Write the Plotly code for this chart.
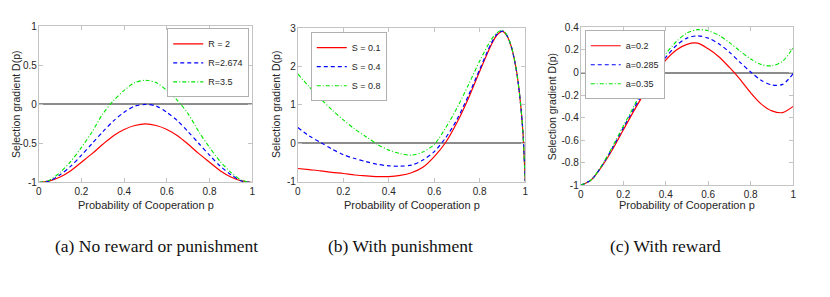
import plotly.graph_objects as go

# ---------------- data ----------------
p_a = [0, 0.05, 0.1, 0.15, 0.2, 0.25, 0.3, 0.35, 0.4, 0.45, 0.5,
       0.55, 0.6, 0.65, 0.7, 0.75, 0.8, 0.85, 0.9, 0.95, 1.0]
a_R2 = [-1, -0.98, -0.93, -0.85, -0.74, -0.63, -0.51, -0.40, -0.32, -0.27, -0.25,
        -0.27, -0.32, -0.40, -0.51, -0.63, -0.74, -0.85, -0.93, -0.98, -1]
a_R2674 = [-1, -0.98, -0.90, -0.79, -0.65, -0.50, -0.35, -0.21, -0.10, -0.02, 0.0,
           -0.02, -0.10, -0.21, -0.35, -0.50, -0.65, -0.79, -0.90, -0.98, -1]
a_R35 = [-1, -0.97, -0.87, -0.73, -0.55, -0.35, -0.12, 0.05, 0.18, 0.28, 0.31,
         0.28, 0.18, 0.05, -0.12, -0.35, -0.55, -0.73, -0.87, -0.97, -1]

p_b = [0, 0.05, 0.1, 0.15, 0.2, 0.25, 0.3, 0.35, 0.4, 0.45, 0.5, 0.55, 0.6,
       0.65, 0.7, 0.75, 0.8, 0.85, 0.875, 0.9, 0.92, 0.94, 0.96, 0.975, 0.99, 1.0]
b_S01 = [-0.66, -0.69, -0.72, -0.76, -0.79, -0.83, -0.85, -0.87, -0.87, -0.84, -0.77, -0.63, -0.35,
         0.02, 0.54, 1.17, 1.88, 2.56, 2.82, 2.92, 2.80, 2.50, 1.95, 1.30, 0.30, -1.0]
b_S04 = [0.41, 0.19, 0.02, -0.15, -0.30, -0.40, -0.48, -0.55, -0.59, -0.60, -0.57, -0.44, -0.22,
         0.14, 0.62, 1.24, 1.93, 2.60, 2.84, 2.93, 2.81, 2.50, 1.95, 1.30, 0.30, -1.0]
b_S08 = [1.81, 1.47, 1.16, 0.87, 0.61, 0.37, 0.17, -0.03, -0.18, -0.27, -0.31, -0.23, -0.03,
         0.40, 0.92, 1.52, 2.15, 2.70, 2.88, 2.95, 2.82, 2.51, 1.96, 1.30, 0.30, -1.0]

p_c = [0, 0.05, 0.1, 0.15, 0.2, 0.25, 0.3, 0.35, 0.4, 0.45, 0.5,
       0.55, 0.6, 0.65, 0.7, 0.75, 0.8, 0.85, 0.9, 0.95, 1.0]
c_a02 = [-1, -0.95, -0.83, -0.68, -0.51, -0.34, -0.18, -0.02, 0.11, 0.20, 0.25,
         0.26, 0.21, 0.14, 0.045, -0.06, -0.18, -0.28, -0.34, -0.355, -0.30]
c_a0285 = [-1, -0.95, -0.825, -0.665, -0.49, -0.32, -0.155, 0.01, 0.135, 0.24, 0.305,
           0.325, 0.305, 0.255, 0.18, 0.09, 0.005, -0.07, -0.11, -0.105, -0.01]
c_a035 = [-1, -0.95, -0.82, -0.655, -0.475, -0.30, -0.11, 0.04, 0.165, 0.275, 0.35,
          0.38, 0.37, 0.33, 0.265, 0.19, 0.12, 0.07, 0.06, 0.10, 0.22]

x_ticks = [0, 0.2, 0.4, 0.6, 0.8, 1]
x_ticklabels = ["0", "0.2", "0.4", "0.6", "0.8", "1"]
ya_ticks = [-1, -0.5, 0, 0.5, 1]
ya_labels = ["-1", "-0.5", "0", "0.5", "1"]
yb_ticks = [-1, 0, 1, 2, 3]
yb_labels = ["-1", "0", "1", "2", "3"]
yc_ticks = [-1, -0.8, -0.6, -0.4, -0.2, 0, 0.2, 0.4]
yc_labels = ["-1", "-0.8", "-0.6", "-0.4", "-0.2", "0", "0.2", "0.4"]

captions = ["(a) No reward or punishment", "(b) With punishment", "(c) With reward"]
x_title = "Probability of Cooperation p"
y_title = "Selection gradient D(p)"

# ---------------- figure ----------------
# the page body keeps its default 8px margin, so the figure is laid out in
# page coordinates shifted by that offset
OFF = 8
W, H = 830 - 2 * OFF, 297 - 2 * OFF


def fx(px):
    return (px - OFF) / W


def fy(py):
    return 1 - (py - OFF) / H


RED, BLUE, GREEN = "#ff0000", "#0000ff", "#00e600"
styles = [dict(color=RED, width=1.2),
          dict(color=BLUE, width=1.2, dash="4px,3px"),
          dict(color=GREEN, width=1.1, dash="4px,2px,1px,2px")]

fig = go.Figure()

panels = [
    (p_a, [a_R2, a_R2674, a_R35], ["R = 2", "R=2.674", "R=3.5"], "x", "y", "legend"),
    (p_b, [b_S01, b_S04, b_S08], ["S = 0.1", "S = 0.4", "S = 0.8"], "x2", "y2", "legend2"),
    (p_c, [c_a02, c_a0285, c_a035], ["a=0.2", "a=0.285", "a=0.35"], "x3", "y3", "legend3"),
]
for px, series, names, xa, ya, lg in panels:
    for s, nm, st in zip(series, names, styles):
        fig.add_trace(go.Scatter(x=px, y=s, mode="lines", name=nm,
                                 line=dict(shape="spline", smoothing=0.8, **st),
                                 xaxis=xa, yaxis=ya, legend=lg))

# page pixel boxes (left, right, top, bottom)
boxes = [(36, 251, 21, 184), (297, 526, 23, 183), (582, 796, 22, 187)]
yticks = [(ya_ticks, ya_labels, [-1, 1]), (yb_ticks, yb_labels, [-1, 3]), (yc_ticks, yc_labels, [-1, 0.4])]

axfont = dict(family="Liberation Sans, Arial, sans-serif", size=10, color="#262626")
common = dict(showline=True, mirror="ticks", linecolor="#c4c4c4", linewidth=1,
              ticks="inside", ticklen=4, tickcolor="#c4c4c4", showgrid=False, tickfont=axfont)

annotations = []
for i, ((l, r, t, b), (yt, yl, yr)) in enumerate(zip(boxes, yticks)):
    sfx = "" if i == 0 else str(i + 1)
    fig.update_layout(**{
        "xaxis" + sfx: dict(domain=[fx(l), fx(r)], range=[0, 1], tickvals=x_ticks, ticktext=x_ticklabels,
                            zeroline=False, anchor="y" + sfx, **common),
        "yaxis" + sfx: dict(domain=[fy(b), fy(t)], range=yr, tickvals=yt, ticktext=yl,
                            zeroline=True, zerolinecolor="#8c8c8c", zerolinewidth=2,
                            ticklabelstandoff=-1, anchor="x" + sfx, **common),
    })
    annotations.append(dict(text=x_title, x=fx((l + r) / 2), y=fy(208), xref="paper", yref="paper",
                            showarrow=False, xanchor="center", yanchor="middle",
                            font=dict(family="Liberation Sans, Arial, sans-serif", size=11, color="#262626")))
    ytx = [13.5, 275, 553][i]
    annotations.append(dict(text=y_title, x=fx(ytx), y=fy((t + b) / 2), xref="paper", yref="paper",
                            showarrow=False, xanchor="center", yanchor="middle", textangle=-90,
                            font=dict(family="Liberation Sans, Arial, sans-serif", size=10.5, color="#262626")))

cap_x = [155, 400, 667]
for cx, cap in zip(cap_x, captions):
    annotations.append(dict(text=cap, x=fx(cx), y=fy(250), xref="paper", yref="paper",
                            showarrow=False, xanchor="center", yanchor="middle",
                            font=dict(family="Liberation Serif, Times New Roman, serif", size=17.5, color="#111111")))

legfont = dict(family="Liberation Sans, Arial, sans-serif", size=9, color="#262626")
legcommon = dict(font=legfont, bgcolor="white", bordercolor="#b0b0b0", borderwidth=1,
                 tracegroupgap=0, itemwidth=30, yanchor="top")
fig.update_layout(
    width=W, height=H, margin=dict(l=0, r=0, t=0, b=0),
    paper_bgcolor="white", plot_bgcolor="white",
    showlegend=True, hovermode=False,
    legend=dict(x=fx(248), y=fy(23), xanchor="right", **legcommon),
    legend2=dict(x=fx(310), y=fy(27), xanchor="left", **legcommon),
    legend3=dict(x=fx(586), y=fy(25), xanchor="left", **legcommon),
    annotations=annotations,
)

fig.write_html("out.html", config={"displayModeBar": False, "staticPlot": True})
